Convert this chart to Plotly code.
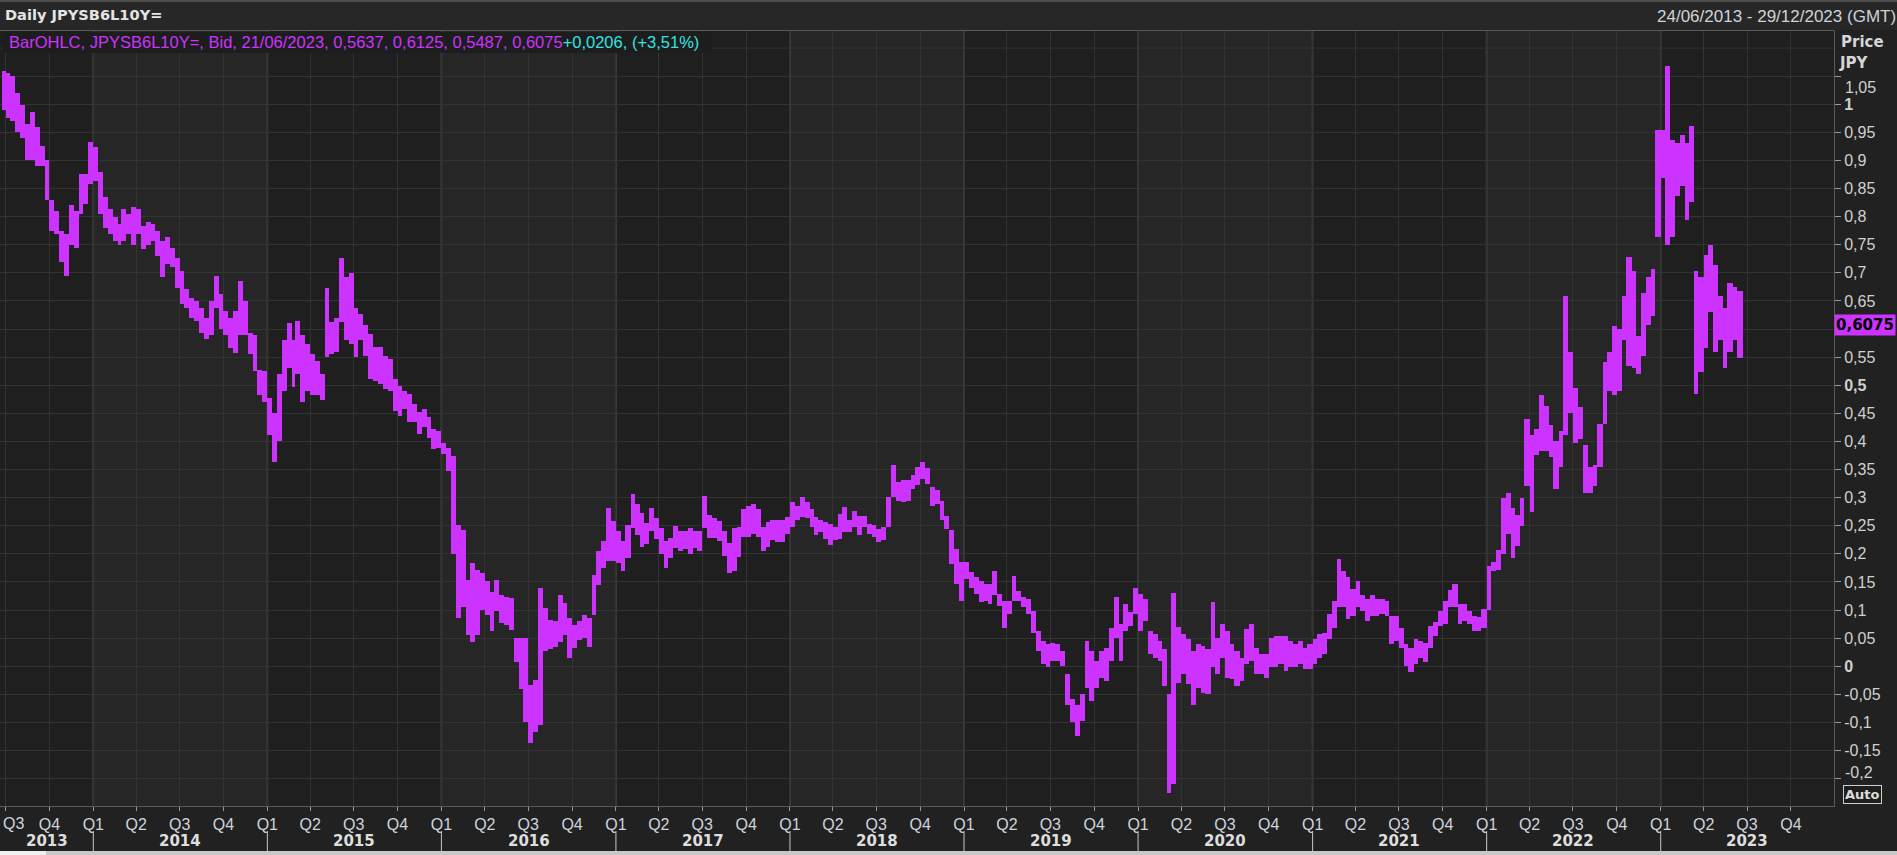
import datetime as dt
import plotly.graph_objects as go

# ---------------- data (10-day high / low envelopes) ----------------
hi_2013 = [1.06, 1.055, 1.05, 1.02, 0.998, 0.965, 0.986, 0.96, 0.926, 0.90, 0.83, 0.81, 0.775, 0.77, 0.82, 0.81, 0.876, 0.876, 0.933]
lo_2013 = [0.99, 0.975, 0.97, 0.95, 0.94, 0.90, 0.90, 0.89, 0.89, 0.83, 0.775, 0.77, 0.72, 0.695, 0.75, 0.745, 0.805, 0.823, 0.858]

hi_2014 = [0.924, 0.879, 0.835, 0.813, 0.80, 0.787, 0.813, 0.805, 0.817, 0.813, 0.784, 0.79, 0.787, 0.775, 0.757, 0.763, 0.745, 0.727,
           0.704, 0.671, 0.656, 0.65, 0.638, 0.62, 0.65, 0.694, 0.662, 0.632, 0.62, 0.632, 0.685, 0.65, 0.593, 0.59, 0.528, 0.525]
lo_2014 = [0.864, 0.805, 0.78, 0.77, 0.757, 0.75, 0.757, 0.77, 0.75, 0.77, 0.742, 0.75, 0.757, 0.73, 0.692, 0.715, 0.71, 0.674,
           0.644, 0.638, 0.62, 0.614, 0.593, 0.583, 0.589, 0.638, 0.60, 0.59, 0.567, 0.557, 0.59, 0.59, 0.555, 0.525, 0.483, 0.471]

hi_2015 = [0.477, 0.45, 0.52, 0.58, 0.61, 0.58, 0.615, 0.59, 0.573, 0.555, 0.543, 0.52, 0.674, 0.613, 0.62, 0.727, 0.692, 0.70,
           0.638, 0.627, 0.607, 0.592, 0.568, 0.568, 0.553, 0.547, 0.511, 0.499, 0.49, 0.484, 0.467, 0.452, 0.458, 0.443, 0.422, 0.419]
lo_2015 = [0.412, 0.363, 0.40, 0.49, 0.53, 0.497, 0.52, 0.47, 0.49, 0.483, 0.483, 0.474, 0.55, 0.555, 0.56, 0.613, 0.58, 0.573,
           0.55, 0.58, 0.553, 0.511, 0.508, 0.502, 0.493, 0.49, 0.455, 0.446, 0.458, 0.434, 0.434, 0.413, 0.425, 0.407, 0.386, 0.389]

hi_2016 = [0.398, 0.389, 0.374, 0.252, 0.243, 0.154, 0.184, 0.172, 0.166, 0.151, 0.133, 0.154, 0.127, 0.124, 0.121, 0.05, 0.05, 0.05,
           -0.033, -0.024, 0.139, 0.104, 0.083, 0.08, 0.127, 0.112, 0.086, 0.074, 0.08, 0.092, 0.086, 0.163, 0.205, 0.223, 0.282, 0.258]
lo_2016 = [0.377, 0.348, 0.199, 0.086, 0.105, 0.056, 0.044, 0.056, 0.101, 0.091, 0.062, 0.098, 0.077, 0.074, 0.065, 0.008, -0.04, -0.099,
           -0.137, -0.117, -0.105, 0.027, 0.03, 0.035, 0.044, 0.056, 0.015, 0.033, 0.047, 0.05, 0.035, 0.092, 0.145, 0.175, 0.187, 0.187]

hi_2017 = [0.24, 0.223, 0.252, 0.306, 0.288, 0.273, 0.255, 0.282, 0.264, 0.246, 0.223, 0.229, 0.249, 0.24, 0.24, 0.246, 0.24, 0.24,
           0.303, 0.27, 0.264, 0.258, 0.24, 0.22, 0.246, 0.248, 0.28, 0.286, 0.289, 0.28, 0.248, 0.257, 0.26, 0.26, 0.26, 0.266]
lo_2017 = [0.184, 0.169, 0.193, 0.246, 0.234, 0.213, 0.217, 0.24, 0.226, 0.199, 0.175, 0.193, 0.211, 0.205, 0.208, 0.199, 0.211, 0.205,
           0.246, 0.229, 0.229, 0.223, 0.196, 0.166, 0.169, 0.194, 0.23, 0.23, 0.236, 0.23, 0.206, 0.212, 0.224, 0.221, 0.221, 0.236]

hi_2018 = [0.292, 0.286, 0.301, 0.292, 0.28, 0.266, 0.26, 0.257, 0.254, 0.248, 0.271, 0.283, 0.26, 0.277, 0.268, 0.268, 0.254, 0.251,
           0.245, 0.248, 0.301, 0.358, 0.328, 0.331, 0.331, 0.34, 0.355, 0.364, 0.352, 0.319, 0.313, 0.295, 0.268, 0.242, 0.209, 0.185]
lo_2018 = [0.248, 0.26, 0.266, 0.263, 0.248, 0.233, 0.239, 0.227, 0.215, 0.224, 0.227, 0.239, 0.239, 0.248, 0.233, 0.248, 0.236, 0.23,
           0.221, 0.224, 0.248, 0.301, 0.295, 0.292, 0.295, 0.316, 0.322, 0.334, 0.325, 0.286, 0.289, 0.26, 0.245, 0.182, 0.146, 0.117]

hi_2019 = [0.185, 0.167, 0.158, 0.152, 0.146, 0.146, 0.17, 0.129, 0.117, 0.117, 0.161, 0.134, 0.123, 0.12, 0.099, 0.063, 0.045, 0.039,
           0.042, 0.039, 0.027, -0.014, -0.059, -0.068, -0.05, 0.045, 0.027, 0.01, 0.027, 0.033, 0.069, 0.123, 0.075, 0.111, 0.096, 0.14]
lo_2019 = [0.155, 0.14, 0.129, 0.114, 0.117, 0.111, 0.126, 0.108, 0.069, 0.093, 0.117, 0.117, 0.105, 0.093, 0.06, 0.027, 0.004, -0.002,
           0.01, 0.01, 0.0, -0.068, -0.10, -0.124, -0.098, -0.038, -0.062, -0.038, -0.02, -0.026, 0.01, 0.051, 0.01, 0.063, 0.072, 0.093]

hi_2020 = [0.129, 0.12, 0.063, 0.057, 0.045, 0.03, -0.05, 0.13, 0.07, 0.057, 0.048, 0.027, 0.039, 0.036, 0.03, 0.114, 0.051, 0.075,
           0.063, 0.039, 0.027, 0.015, 0.066, 0.075, 0.033, 0.021, 0.021, 0.051, 0.054, 0.054, 0.054, 0.045, 0.039, 0.045, 0.033, 0.039]
lo_2020 = [0.063, 0.081, 0.021, 0.015, 0.01, -0.035, -0.225, -0.21, -0.03, -0.014, -0.032, -0.068, -0.038, -0.047, -0.05, -0.002, -0.014, 0.015,
           -0.02, -0.023, -0.035, -0.026, 0.004, 0.01, -0.014, -0.014, -0.02, -0.002, -0.002, 0.004, -0.008, -0.002, -0.002, 0.004, -0.005, -0.005]

hi_2021 = [0.048, 0.057, 0.06, 0.093, 0.117, 0.191, 0.17, 0.158, 0.138, 0.152, 0.126, 0.12, 0.126, 0.12, 0.12, 0.117, 0.09, 0.09,
           0.069, 0.039, 0.033, 0.048, 0.045, 0.042, 0.072, 0.078, 0.099, 0.117, 0.135, 0.146, 0.111, 0.111, 0.099, 0.09, 0.087, 0.102]
lo_2021 = [0.004, 0.015, 0.021, 0.048, 0.069, 0.105, 0.105, 0.084, 0.09, 0.105, 0.099, 0.081, 0.09, 0.09, 0.093, 0.09, 0.039, 0.045,
           0.033, 0.001, -0.011, 0.004, 0.015, 0.007, 0.033, 0.054, 0.072, 0.075, 0.105, 0.105, 0.075, 0.081, 0.075, 0.063, 0.063, 0.069]

hi_2022 = [0.178, 0.186, 0.207, 0.299, 0.309, 0.281, 0.27, 0.299, 0.44, 0.411, 0.422, 0.482, 0.464, 0.429, 0.40, 0.418, 0.659, 0.559,
           0.496, 0.461, 0.394, 0.355, 0.358, 0.432, 0.542, 0.559, 0.605, 0.601, 0.658, 0.728, 0.704, 0.587, 0.665, 0.693, 0.707, 0.954]
lo_2022 = [0.10, 0.17, 0.172, 0.20, 0.235, 0.193, 0.214, 0.249, 0.32, 0.274, 0.376, 0.383, 0.383, 0.373, 0.316, 0.355, 0.411, 0.45,
           0.397, 0.404, 0.309, 0.309, 0.32, 0.355, 0.432, 0.489, 0.482, 0.489, 0.58, 0.535, 0.531, 0.52, 0.552, 0.608, 0.623, 0.763]

hi_2023 = [0.954, 1.068, 0.936, 0.932, 0.946, 0.932, 0.961, 0.704, 0.693, 0.732, 0.749, 0.714, 0.658, 0.637, 0.682, 0.675, 0.668]
lo_2023 = [0.869, 0.749, 0.763, 0.837, 0.855, 0.795, 0.827, 0.485, 0.524, 0.566, 0.63, 0.559, 0.58, 0.531, 0.559, 0.58, 0.549]

# last daily bar (legend)
instrument = "JPYSB6L10Y="
last_date = "21/06/2023"
last_open, last_high, last_low, last_close = 0.5637, 0.6125, 0.5487, 0.6075
last_change, last_change_pct = 0.0206, 3.51
range_label = "24/06/2013 - 29/12/2023 (GMT)"

# axis labels
q_labels = ["Q3", "Q4"] + ["Q1", "Q2", "Q3", "Q4"] * 10
year_labels = ["2013", "2014", "2015", "2016", "2017", "2018", "2019", "2020", "2021", "2022", "2023"]
ytick_values = [-0.2, -0.15, -0.1, -0.05, 0, 0.05, 0.1, 0.15, 0.2, 0.25, 0.3, 0.35, 0.4, 0.45, 0.5,
                0.55, 0.6, 0.65, 0.7, 0.75, 0.8, 0.85, 0.9, 0.95, 1.0, 1.05]
ytick_labels = ["-0,2", "-0,15", "-0,1", "-0,05", "<b>0</b>", "0,05", "0,1", "0,15", "0,2", "0,25", "0,3", "0,35",
                "0,4", "0,45", "<b>0,5</b>", "0,55", "0,6", "0,65", "0,7", "0,75", "0,8", "0,85", "0,9", "0,95",
                "<b>1</b>", "1,05"]

# ---------------- assemble ----------------
highs = hi_2013 + hi_2014 + hi_2015 + hi_2016 + hi_2017 + hi_2018 + hi_2019 + hi_2020 + hi_2021 + hi_2022 + hi_2023
lows = lo_2013 + lo_2014 + lo_2015 + lo_2016 + lo_2017 + lo_2018 + lo_2019 + lo_2020 + lo_2021 + lo_2022 + lo_2023

starts = [dt.date(2013, 6, 24)]
y, m = 2013, 7
while True:
    for d in (1, 11, 21):
        if (y, m, d) > (2023, 6, 11):
            break
        starts.append(dt.date(y, m, d))
    if (y, m) == (2023, 6):
        break
    m += 1
    if m == 13:
        y, m = y + 1, 1
ends = starts[1:] + [dt.date(2023, 6, 22)]
assert len(starts) == len(highs) == len(lows), (len(starts), len(highs), len(lows))

q_dates = ["2013-07-01", "2013-10-01"] + [f"{yr}-{mo:02d}-01" for yr in range(2014, 2024) for mo in (1, 4, 7, 10)]
# first quarter label sits against the left edge, so it is placed separately (left-aligned)
q_text = [""] + q_labels[1:]

BAR = "#cc33ff"
CYAN = "#33e3e3"
REG = "Liberation Sans, Arial, sans-serif"
BOLD = "DejaVu Sans, Verdana, sans-serif"
W, H = 1897, 855
L, R, T, B = 0, 63, 31, 49
PW, PH = W - L - R, H - T - B


def px(x):
    return (x - L) / PW


def py(yy):
    return (H - B - yy) / PH


def fmt(v, nd):
    return f"{v:.{nd}f}".replace(".", ",")


# labels nudged off their ticks (as in the source), and the one hidden behind the last-value box
nudged = {1.05: 87.5, -0.2: 772.0}
hidden = {0.6}
axis_ticktext = ["" if (v in nudged or v in hidden) else lab for v, lab in zip(ytick_values, ytick_labels)]

fig = go.Figure()
fig.add_trace(go.Bar(
    x=[s.isoformat() for s in starts],
    y=[h - l for h, l in zip(highs, lows)],
    base=lows,
    width=[(e - s).days * 86400000 for s, e in zip(starts, ends)],
    offset=0,
    marker=dict(color=BAR, line=dict(width=0)),
    hoverinfo="skip",
    showlegend=False,
))

shapes = []
for yr in (2014, 2016, 2018, 2020, 2022):
    shapes.append(dict(type="rect", xref="x", yref="y domain", x0=f"{yr}-01-01", x1=f"{yr + 1}-01-01",
                       y0=0, y1=1, fillcolor="#262626", line=dict(width=0), layer="below"))
for yr in range(2014, 2024):
    shapes.append(dict(type="line", xref="x", yref="y domain", x0=f"{yr}-01-01", x1=f"{yr}-01-01",
                       y0=0, y1=1, line=dict(color="#3b3b3b", width=2), layer="below"))
    shapes.append(dict(type="line", xref="x", yref="paper", x0=f"{yr}-01-01", x1=f"{yr}-01-01",
                       y0=py(831), y1=py(851), line=dict(color="#c8c8c8", width=1)))
shapes.append(dict(type="line", xref="paper", yref="y", x0=0, x1=1, y0=1.1, y1=1.1,
                   line=dict(color="#333333", width=1), layer="below"))
# header band and top rule
shapes.append(dict(type="rect", xref="paper", yref="paper", x0=px(0), x1=px(W), y0=py(30), y1=py(0),
                   fillcolor="#272727", line=dict(width=0), layer="above"))
shapes.append(dict(type="rect", xref="paper", yref="paper", x0=px(0), x1=px(W), y0=py(2), y1=py(0),
                   fillcolor="#4e4e4e", line=dict(width=0), layer="above"))
# legend box
shapes.append(dict(type="rect", xref="paper", yref="paper", x0=px(3), x1=px(712), y0=py(53), y1=py(32),
                   fillcolor="#1d1d1d", line=dict(width=0), layer="above"))
# bottom strip
shapes.append(dict(type="rect", xref="paper", yref="paper", x0=px(0), x1=px(W), y0=py(855), y1=py(851),
                   fillcolor="#c8c8c8", line=dict(width=0), layer="above"))
shapes.append(dict(type="rect", xref="paper", yref="paper", x0=px(0), x1=px(46), y0=py(855), y1=py(851),
                   fillcolor="#f0f0f0", line=dict(width=0), layer="above"))

legend_text = (f"<span style='color:{BAR}'>BarOHLC, {instrument}, Bid, {last_date}, {fmt(last_open, 4)}, "
               f"{fmt(last_high, 4)}, {fmt(last_low, 4)}, {fmt(last_close, 4)}</span>"
               f"<span style='color:{CYAN}'>+{fmt(last_change, 4)}, (+{fmt(last_change_pct, 2)}%)</span>")

ann = [
    dict(xref="paper", yref="paper", x=px(3), y=py(15), xanchor="left", yanchor="middle", showarrow=False,
         text=f"<b>Daily {instrument}</b>", font=dict(family=BOLD, size=14.6, color="#e4e4e4")),
    dict(xref="paper", yref="paper", x=px(W + 1), y=py(16), xanchor="right", yanchor="middle", showarrow=False,
         text=range_label, font=dict(family=REG, size=17, color="#cfd3d8")),
    dict(xref="paper", yref="paper", x=px(7), y=py(42), xanchor="left", yanchor="middle", showarrow=False,
         text=legend_text, font=dict(family=REG, size=16.5, color=BAR)),
    dict(xref="paper", yref="paper", x=px(1839), y=py(42), xanchor="left", yanchor="middle", showarrow=False,
         text="<b>Price</b>", font=dict(family=BOLD, size=15, color="#d6d6d6")),
    dict(xref="paper", yref="paper", x=px(1837), y=py(63), xanchor="left", yanchor="middle", showarrow=False,
         text="<b>JPY</b>", font=dict(family=BOLD, size=15, color="#d6d6d6")),
    dict(xref="paper", yref="y", x=px(1834), y=last_close, xanchor="left", yanchor="middle", showarrow=False,
         text=f"<b>{fmt(last_close, 4)}</b>", font=dict(family=BOLD, size=15, color="#000000"),
         bgcolor=BAR, borderpad=1),
    dict(xref="paper", yref="paper", x=px(1862), y=py(794), xanchor="center", yanchor="middle", showarrow=False,
         text="<b>Auto</b>", font=dict(family=BOLD, size=13, color="#dcdcdc"),
         bgcolor="#1e1e1e", bordercolor="#cfcfcf", borderwidth=1, borderpad=1),
    dict(xref="paper", yref="paper", x=px(1), y=py(823), xanchor="left", yanchor="middle", showarrow=False,
         text=q_labels[0], font=dict(family=REG, size=16, color="#cdd5de")),
]
for v, lab in zip(ytick_values, ytick_labels):
    if v in nudged:
        ann.append(dict(xref="paper", yref="paper", x=px(1843), y=py(nudged[v]), xanchor="left", yanchor="middle",
                        showarrow=False, text=lab, font=dict(family=REG, size=16, color="#d0d0d0")))
year_centers = ["2013-09-25"] + [f"{yr}-07-02" for yr in range(2014, 2023)] + ["2023-07-01"]
for lab, xc in zip(year_labels, year_centers):
    ann.append(dict(xref="x", yref="paper", x=xc, y=py(841), xanchor="center", yanchor="middle", showarrow=False,
                    text=f"<b>{lab}</b>", font=dict(family=BOLD, size=15, color="#dedede")))

fig.update_layout(
    template="none",
    width=W, height=H,
    margin=dict(l=L, r=R, t=T, b=B, pad=0),
    paper_bgcolor="#212121",
    plot_bgcolor="#1f1f1f",
    showlegend=False,
    bargap=0,
    shapes=shapes,
    annotations=ann,
    xaxis=dict(
        type="date", range=["2013-06-19 08:00", "2023-12-30 10:00"],
        tickvals=q_dates, ticktext=q_text, tickangle=0,
        ticks="outside", ticklen=4, tickcolor="#9a9a9a", tickwidth=1,
        tickfont=dict(family=REG, size=16, color="#cdd5de"),
        showgrid=True, gridcolor="#333333", gridwidth=1,
        showline=True, linecolor="#5a5a5a", linewidth=1, mirror=True,
        zeroline=False, automargin=False, fixedrange=True,
    ),
    yaxis=dict(
        side="right", range=[-0.2486, 1.1304],
        tickvals=ytick_values, ticktext=axis_ticktext,
        ticks="outside", ticklen=6, tickcolor="#9a9a9a", tickwidth=1,
        tickfont=dict(family=REG, size=16, color="#d0d0d0"),
        showgrid=True, gridcolor="#333333", gridwidth=1,
        showline=True, linecolor="#5a5a5a", linewidth=1, mirror=True,
        zeroline=False, automargin=False, fixedrange=True,
    ),
)

fig.write_html(
    "out.html",
    config={"displayModeBar": False},
    post_script="document.body.style.margin='0px';document.body.style.overflow='hidden';",
)
